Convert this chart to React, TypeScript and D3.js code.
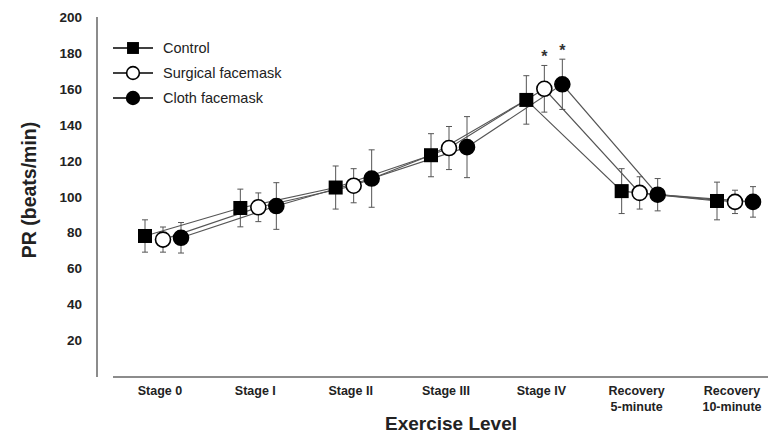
import React from "react";
import * as d3 from "d3";

const categories = ["Stage 0", "Stage I", "Stage II", "Stage III", "Stage IV", "Recovery\n5-minute", "Recovery\n10-minute"];
const seriesNames = ["Control", "Surgical facemask", "Cloth facemask"];
const controlMean = [78, 93.6, 105, 123, 153.8, 103, 97.5];
const controlSD = [9, 10.5, 12, 12, 13.5, 12.5, 10.5];
const surgicalMean = [76, 94, 106, 127, 160, 102, 97];
const surgicalSD = [7, 8, 9.5, 12, 13, 9, 6.5];
const clothMean = [77, 94.7, 110, 127.5, 162.5, 101, 97];
const clothSD = [8.5, 13, 16, 17, 14, 9, 8.5];
const yTicks = [20, 40, 60, 80, 100, 120, 140, 160, 180, 200];
const significant = [[], [false, false, false, false, true, false, false], [false, false, false, false, true, false, false]];

const W = 768, H = 434;

export default function App() {
  const y = d3.scaleLinear().domain([0, 200]).range([376, 17]);
  const x = d3.scalePoint<string>().domain(categories).range([163, 735]);
  const offsets = [-18, 0, 18];
  const means = [controlMean, surgicalMean, clothMean];
  const sds = [controlSD, surgicalSD, clothSD];
  const line = d3.line<[number, number]>().x(d => d[0]).y(d => d[1]);
  const font = "'Liberation Sans', Arial, sans-serif";

  const marker = (s: number, cx: number, cy: number, key: string, size = 1) => {
    if (s === 0) {
      const h = 7 * size;
      return <rect key={key} x={cx - h} y={cy - h} width={2 * h} height={2 * h} fill="#000" />;
    }
    return <circle key={key} cx={cx} cy={cy} r={7.5 * size} fill={s === 1 ? "#fff" : "#000"} stroke="#000" strokeWidth={1.6} />;
  };

  return (
    <svg width={W} height={H} style={{ display: "block", position: "absolute", left: 0, top: 0 }} fontFamily={font}>
      <rect width={W} height={H} fill="#fff" />
      {/* axes */}
      <line x1={97} x2={97} y1={y(200)} y2={377} stroke="#666" strokeWidth={1.5} />
      <line x1={113} x2={768} y1={377} y2={377} stroke="#666" strokeWidth={1.5} />
      {yTicks.map(t => (
        <text key={t} x={82} y={y(t) + 5} textAnchor="end" fontSize={13.5} fontWeight="bold" fill="#222">{t}</text>
      ))}
      {categories.map(c => {
        const lines = c.split("\n");
        return (
          <text key={c} x={(x(c) as number) - 3} y={395} textAnchor="middle" fontSize={12.5} fontWeight="bold" fill="#222">
            {lines.map((l, i) => <tspan key={i} x={(x(c) as number) - 3} dy={i === 0 ? 0 : 16}>{l}</tspan>)}
          </text>
        );
      })}
      <text x={451} y={430} textAnchor="middle" fontSize={19} fontWeight="bold" fill="#222">Exercise Level</text>
      <text transform={`translate(36,190) rotate(-90)`} textAnchor="middle" fontSize={19.5} fontWeight="bold" fill="#222">PR (beats/min)</text>
      {/* lines */}
      {means.map((m, s) => (
        <path key={"l" + s} d={line(m.map((v, i) => [(x(categories[i]) as number) + offsets[s], y(v)]) as any) || ""} fill="none" stroke="#555" strokeWidth={1.2} />
      ))}
      {/* error bars */}
      {means.map((m, s) => m.map((v, i) => {
        const cx = (x(categories[i]) as number) + offsets[s];
        const top = y(v + sds[s][i]);
        const bot = y(v - sds[s][i]);
        return (
          <g key={`e${s}-${i}`} stroke="#555" strokeWidth={1}>
            <line x1={cx} x2={cx} y1={top} y2={bot} />
            <line x1={cx - 3} x2={cx + 3} y1={top} y2={top} />
            <line x1={cx - 3} x2={cx + 3} y1={bot} y2={bot} />
          </g>
        );
      }))}
      {/* markers */}
      {means.map((m, s) => m.map((v, i) => marker(s, (x(categories[i]) as number) + offsets[s], y(v), `m${s}-${i}`)))}
      {/* significance */}
      {means.map((m, s) => m.map((v, i) => significant[s][i] ? (
        <text key={`s${s}-${i}`} x={(x(categories[i]) as number) + offsets[s]} y={y(v + sds[s][i]) - 3} textAnchor="middle" fontSize={16} fontWeight="bold" fill="#333">*</text>
      ) : null))}
      {/* legend */}
      {seriesNames.map((n, s) => {
        const ly = 48 + s * 25;
        return (
          <g key={"lg" + s}>
            <line x1={113} x2={153} y1={ly} y2={ly} stroke="#000" strokeWidth={1.5} />
            {marker(s, 133, ly, "lm" + s, 0.85)}
            <text x={163} y={ly + 5} fontSize={14.5} fill="#222">{n}</text>
          </g>
        );
      })}
    </svg>
  );
}
